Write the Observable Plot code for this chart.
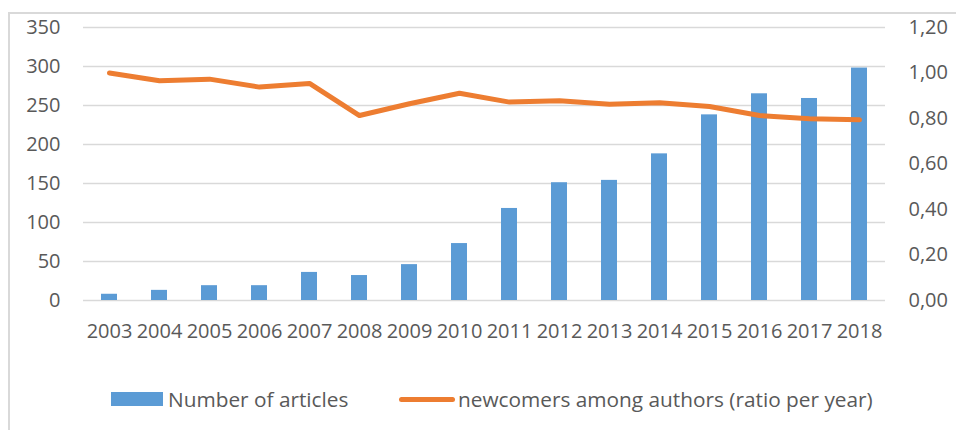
<!DOCTYPE html>
<html><head><meta charset="utf-8">
<script src="https://cdn.jsdelivr.net/npm/d3@7"></script>
<script src="https://cdn.jsdelivr.net/npm/@observablehq/plot@0.6"></script>
<style>
body{margin:0;background:#fff;font-family:"Open Sans",sans-serif;}
#wrap{position:relative;width:956px;height:430px;overflow:hidden;background:#fff;}
.bl{position:absolute;background:#d9d9d9;}
#legend{position:absolute;left:0;top:383px;width:956px;height:32px;font-size:20.8px;color:#595959;}
.item{position:absolute;top:0;height:32px;display:flex;align-items:center;white-space:nowrap;}
</style></head><body>
<div id="wrap">
 <div class="bl" style="left:8px;top:12px;width:1.5px;height:418px"></div>
 <div class="bl" style="left:8px;top:12px;width:948px;height:1.5px"></div>
 <div id="chart" style="position:absolute;left:0;top:0"></div>
 <div id="legend"></div>
</div>
<script>
const years = ["2003","2004","2005","2006","2007","2008","2009","2010","2011","2012","2013","2014","2015","2016","2017","2018"];
const articles = [8,13,19,19,36,32,46,73,118,151,154,188,238,265,259,298];
const newcomers = [1.00,0.966,0.973,0.938,0.954,0.813,0.865,0.911,0.872,0.878,0.863,0.869,0.853,0.813,0.799,0.794];
const leftTicks = [0,50,100,150,200,250,300,350];
const rightTicks = [0,0.2,0.4,0.6,0.8,1.0,1.2];
const seriesNames = ["Number of articles","newcomers among authors (ratio per year)"];
const colors = ["#5b9bd5","#ed7d31"];

const k = 350/1.2;
const chart = Plot.plot({
  width:956, height:360, marginLeft:83, marginRight:71, marginTop:27, marginBottom:60,
  style:{fontFamily:"'Open Sans', sans-serif", fontSize:"20px", color:"#595959", background:"transparent", overflow:"visible"},
  x:{type:"band", domain:years, paddingInner:0.68, paddingOuter:0.34},
  y:{domain:[0,350]},
  marks:[
    Plot.ruleY(leftTicks, {stroke:"#d9d9d9", strokeWidth:1.5}),
    Plot.barY(years, {x: years, y: articles, fill: colors[0]}),
    Plot.line(years, {x: years, y: newcomers.map(v => v*k), stroke: colors[1], strokeWidth:5, strokeLinecap:"round", strokeLinejoin:"round"}),
    Plot.axisY({anchor:"left", ticks: leftTicks, tickSize:0, tickPadding:23, label:null}),
    Plot.axisY({anchor:"right", ticks: rightTicks.map(v => v*k), tickFormat: d => (d/k).toFixed(2).replace(".", ","), tickSize:0, tickPadding:23, label:null}),
    Plot.axisX({tickSize:0, tickPadding:23, label:null})
  ]
});
document.getElementById("chart").appendChild(chart);

const legend = document.getElementById("legend");
legend.innerHTML =
  `<div class="item" style="left:111px"><span style="display:inline-block;width:52px;height:14px;background:${colors[0]};margin-right:5px"></span>${seriesNames[0]}</div>` +
  `<div class="item" style="left:399px"><span style="display:inline-block;width:56px;height:5px;border-radius:3px;background:${colors[1]};margin-right:3px"></span>${seriesNames[1]}</div>`;
</script>
</body></html>
